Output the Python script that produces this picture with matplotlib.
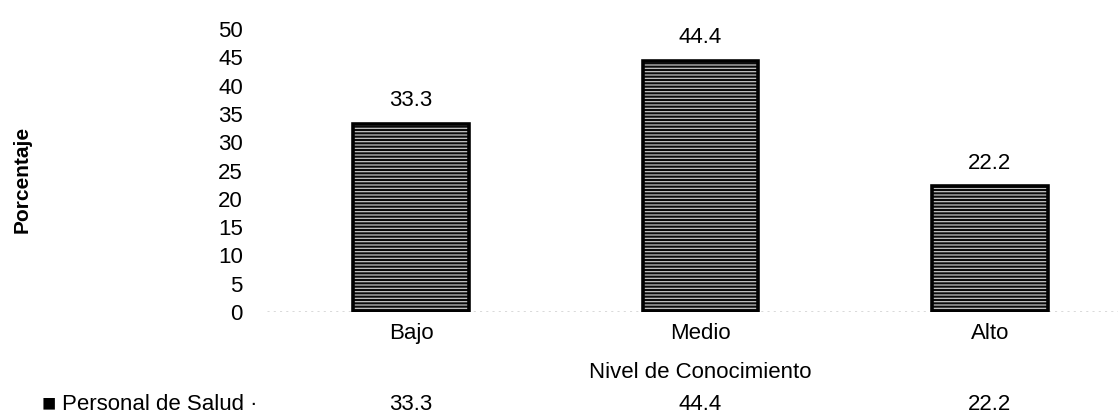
import matplotlib
matplotlib.use("Agg")
import matplotlib.pyplot as plt

plt.rcParams['font.family'] = ['Liberation Sans', 'DejaVu Sans']
plt.rcParams['hatch.linewidth'] = 0.9

# Nivel de conocimiento del personal de salud (%)
niveles = ["Bajo", "Medio", "Alto"]
porcentajes = [33.3, 44.4, 22.2]
serie = "Personal de Salud"
yticks = [0, 5, 10, 15, 20, 25, 30, 35, 40, 45, 50]

fs = 16
fig = plt.figure(figsize=(11.18, 4.15), dpi=100)
ax = fig.add_axes([0.2384, 0.248, 0.7764, 0.682])

x = range(len(niveles))
# relleno oscuro con rayas horizontales claras
ax.bar(x, porcentajes, width=0.40, color='#0a0a0a', edgecolor='#c4c4c4',
       hatch='-----', linewidth=0, zorder=2)
ax.bar(x, porcentajes, width=0.40, color='none', edgecolor='black',
       linewidth=2.6, zorder=3)

for xi, v in zip(x, porcentajes):
    ax.annotate(f"{v:.1f}", (xi, v), xytext=(0, 9), textcoords='offset points',
                ha='center', va='bottom', fontsize=fs)

ax.set_xlim(-0.5, 2.5)
ax.set_ylim(0, 50)
ax.set_yticks(yticks)
ax.set_xticks(list(x))
ax.set_xticklabels(niveles, fontsize=fs)
ax.tick_params(axis='y', length=0, labelsize=fs, pad=17)
ax.tick_params(axis='x', length=0, pad=8)
for s in ax.spines.values():
    s.set_visible(False)
ax.axhline(0, color='#444444', linewidth=1.0, linestyle=(0, (1.5, 3)), zorder=1)

ax.set_xlabel("Nivel de Conocimiento", fontsize=fs, va='center')
ax.xaxis.set_label_coords(0.5, -0.212)
ax.set_ylabel("Porcentaje", fontsize=15, fontweight='bold', va='center')
ax.yaxis.set_label_coords(-0.2817, 0.47)

# fila de la tabla de datos
fila_y = 0.026
fig.text(0.037, fila_y, "\u25a0", fontsize=17, va='center', ha='left')
fig.text(0.0555, fila_y, serie + " \u00b7", fontsize=fs, va='center', ha='left')
for xi, v in zip(x, porcentajes):
    xf = fig.transFigure.inverted().transform(ax.transData.transform((xi, 0)))[0]
    fig.text(xf, fila_y, f"{v:.1f}", fontsize=fs, va='center', ha='center')

fig.savefig("out.png", dpi=100)
